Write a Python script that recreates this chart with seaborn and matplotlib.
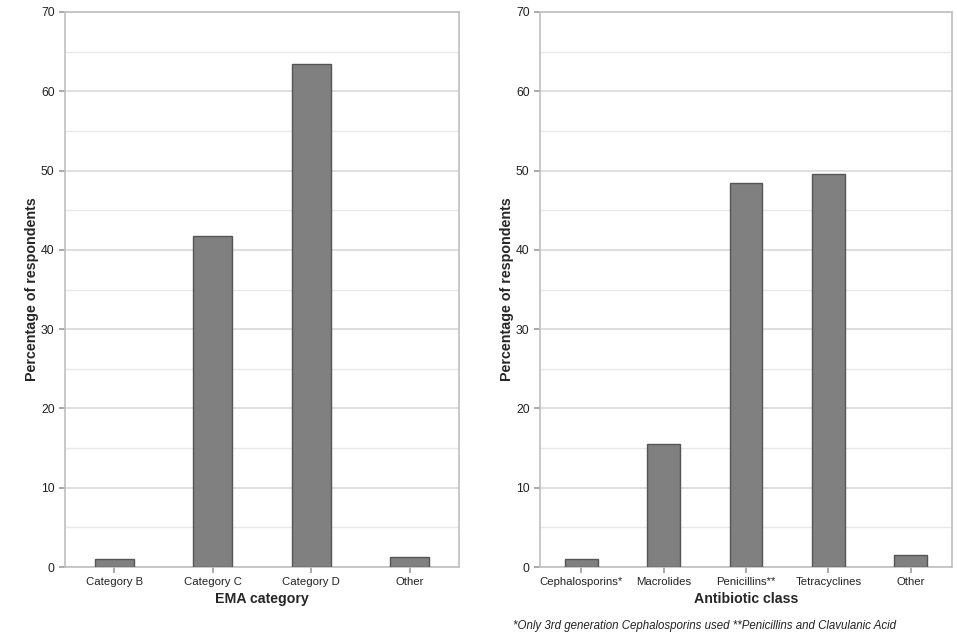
import matplotlib

matplotlib.use("Agg")
import matplotlib.pyplot as plt
import pandas as pd
import seaborn as sns

ema_categories = ["Category B", "Category C", "Category D", "Other"]
ema_values = [1.0, 41.7, 63.5, 1.3]

antibiotic_classes = ["Cephalosporins*", "Macrolides", "Penicillins**", "Tetracyclines", "Other"]
antibiotic_values = [1.0, 15.5, 48.4, 49.6, 1.5]

y_ticks = [0, 10, 20, 30, 40, 50, 60, 70]
footnote = "*Only 3rd generation Cephalosporins used **Penicillins and Clavulanic Acid"

sns.set_theme(style="white")
plt.rcParams["font.family"] = ["Liberation Sans", "DejaVu Sans"]

fig = plt.figure(figsize=(9.57, 6.38), dpi=100)
ax_left = fig.add_axes([65 / 957, 1 - 567 / 638, 394 / 957, 555 / 638])
ax_right = fig.add_axes([540 / 957, 1 - 567 / 638, 412 / 957, 555 / 638])


def draw_panel(ax, cats, vals, xlabel):
    df = pd.DataFrame({"cat": cats, "val": vals})
    sns.barplot(
        data=df,
        x="cat",
        y="val",
        ax=ax,
        color="#808080",
        saturation=1,
        width=0.4,
        edgecolor="#555555",
        linewidth=1,
        zorder=3,
    )
    ax.set_ylim(0, 70)
    ax.set_yticks(y_ticks)
    ax.set_yticks(range(5, 70, 10), minor=True)
    ax.grid(axis="y", which="major", color="#d9d9d9", linewidth=1.2, zorder=0)
    ax.grid(axis="y", which="minor", color="#e8e8e8", linewidth=1.0, zorder=0)
    ax.set_axisbelow(True)
    for side in ["left", "bottom", "top", "right"]:
        ax.spines[side].set_color("#bfbfbf")
        ax.spines[side].set_linewidth(1.2)
    ax.tick_params(axis="both", which="major", length=4, color="#a0a0a0",
                   labelcolor="#222222", left=True, bottom=True)
    ax.tick_params(axis="x", labelsize=8.2)
    ax.tick_params(axis="y", labelsize=8.8)
    ax.tick_params(axis="y", which="minor", length=0)
    ax.set_xlabel(xlabel, fontsize=10.2, fontweight="bold", labelpad=3)
    ax.set_ylabel("Percentage of respondents", fontsize=10.3, fontweight="bold", labelpad=1.5)


draw_panel(ax_left, ema_categories, ema_values, "EMA category")
draw_panel(ax_right, antibiotic_classes, antibiotic_values, "Antibiotic class")

fig.text(513 / 957, 1 - 626 / 638, footnote, fontsize=8.3, style="italic",
         color="#222222", ha="left", va="center")

fig.savefig("out.png", dpi=100)
